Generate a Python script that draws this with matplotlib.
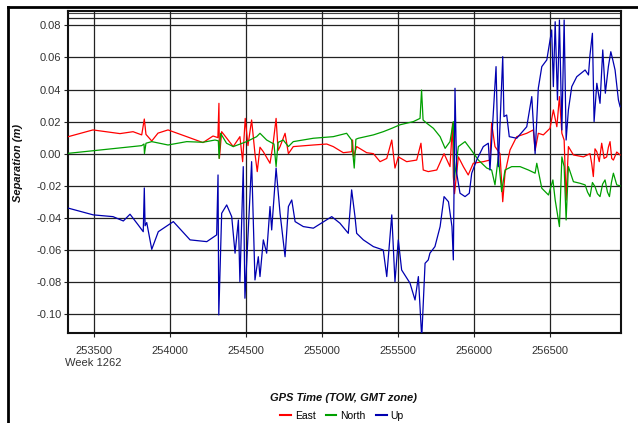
import matplotlib
matplotlib.use("Agg")
import matplotlib.pyplot as plt
from matplotlib.lines import Line2D

plt.rcParams['font.family'] = ['Liberation Sans Narrow', 'Liberation Sans', 'DejaVu Sans']

# ---- data (GPS TOW seconds, separation in metres) ----
east_t = [253333, 253495, 253673, 253759, 253816, 253833, 253844, 253882, 253923, 253989,
          254112, 254219, 254285, 254298, 254317, 254324, 254327, 254342, 254418, 254462,
          254480, 254488, 254497, 254515, 254539, 254561, 254576, 254594, 254616, 254660,
          254680, 254700, 254713, 254726, 254759, 254781, 254813, 254945, 255033, 255076,
          255142, 255197, 255203, 255209, 255230, 255296, 255340, 255384, 255428, 255461,
          255482, 255504, 255559, 255625, 255653, 255668, 255701, 255757, 255805, 255844,
          255861, 255866, 255874, 255899, 255932, 255964, 255997, 256063, 256107, 256118,
          256140, 256173, 256191, 256206, 256239, 256283, 256349, 256392, 256404, 256425,
          256458, 256502, 256524, 256547, 256564, 256580, 256595, 256608, 256623, 256656,
          256722, 256765, 256776, 256787, 256798, 256810, 256826, 256842, 256858, 256875,
          256886, 256897, 256908, 256919, 256941, 256963]
east_v = [0.0106, 0.0148, 0.0125, 0.0137, 0.0117, 0.0216, 0.0120, 0.0079, 0.0128, 0.0148,
          0.0106, 0.0069, 0.0110, 0.0106, 0.0100, 0.0314, -0.0029, 0.0137, 0.0044, 0.0106,
          -0.0050, 0.0080, 0.0220, 0.0050, 0.0210, 0.0000, -0.0112, 0.0040, 0.0012, -0.0060,
          0.0060, 0.0220, 0.0020, 0.0044, 0.0127, 0.0000, 0.0044, 0.0054, 0.0060, 0.0044,
          0.0006, 0.0012, 0.0085, -0.0020, 0.0044, 0.0006, 0.0000, -0.0050, -0.0030, 0.0085,
          -0.0090, -0.0020, -0.0050, -0.0040, 0.0065, -0.0102, -0.0112, -0.0102, 0.0000, -0.0081,
          0.0190, -0.0143, -0.0250, -0.0020, -0.0081, -0.0133, -0.0060, -0.0050, -0.0040, 0.0190,
          0.0044, 0.0000, -0.0300, -0.0122, 0.0023, 0.0106, 0.0127, 0.0148, 0.0020, 0.0127,
          0.0117, 0.0158, 0.0273, 0.0168, 0.0356, 0.0127, 0.0085, -0.0290, 0.0044, -0.0008,
          -0.0020, 0.0000, -0.0060, -0.0143, 0.0030, 0.0012, -0.0050, 0.0065, -0.0030, -0.0020,
          0.0040, 0.0075, -0.0030, -0.0040, 0.0010, -0.0008]

north_t = [253333, 253816, 253831, 253834, 253844, 253882, 253989, 254112, 254219, 254298,
           254320, 254325, 254335, 254374, 254418, 254506, 254572, 254594, 254638, 254686,
           254700, 254713, 254747, 254781, 254813, 254945, 255076, 255164, 255197, 255214,
           255225, 255241, 255340, 255405, 255461, 255515, 255603, 255647, 255657, 255667,
           255691, 255735, 255779, 255812, 255844, 255866, 255872, 255899, 255943, 255976,
           256031, 256086, 256118, 256140, 256162, 256184, 256206, 256250, 256305, 256360,
           256404, 256415, 256448, 256492, 256521, 256536, 256564, 256580, 256595, 256608,
           256623, 256656, 256700, 256733, 256749, 256765, 256781, 256798, 256814, 256831,
           256848, 256864, 256880, 256893, 256906, 256919, 256941, 256963]
north_v = [0.0002, 0.0050, 0.0060, 0.0000, 0.0065, 0.0075, 0.0054, 0.0075, 0.0071, 0.0085,
           0.0080, -0.0030, 0.0127, 0.0065, 0.0044, 0.0075, 0.0106, 0.0127, 0.0085, 0.0060,
           -0.0081, 0.0070, 0.0085, 0.0044, 0.0075, 0.0096, 0.0106, 0.0127, 0.0085, -0.0090,
           0.0090, 0.0096, 0.0117, 0.0137, 0.0158, 0.0180, 0.0200, 0.0220, 0.0397, 0.0210,
           0.0190, 0.0158, 0.0106, 0.0033, 0.0075, 0.0200, -0.0164, 0.0044, 0.0075, 0.0033,
           -0.0040, -0.0090, -0.0102, -0.0195, -0.0020, -0.0237, -0.0102, -0.0081, -0.0081, -0.0102,
           -0.0122, -0.0060, -0.0216, -0.0258, -0.0164, -0.0289, -0.0455, -0.0020, -0.0081, -0.0414,
           -0.0081, -0.0175, -0.0185, -0.0195, -0.0240, -0.0268, -0.0180, -0.0206, -0.0250, -0.0268,
           -0.0190, -0.0164, -0.0240, -0.0268, -0.0180, -0.0122, -0.0195, -0.0201]

up_t = [253333, 253497, 253627, 253695, 253739, 253793, 253826, 253833, 253838, 253849,
        253882, 253925, 254024, 254134, 254244, 254309, 254318, 254323, 254342, 254375,
        254408, 254430, 254452, 254462, 254484, 254495, 254517, 254539, 254561, 254583,
        254594, 254616, 254638, 254660, 254671, 254700, 254726, 254759, 254781, 254803,
        254825, 254879, 254945, 255066, 255120, 255175, 255197, 255219, 255230, 255274,
        255340, 255405, 255428, 255461, 255482, 255504, 255526, 255581, 255614, 255636,
        255658, 255680, 255701, 255712, 255745, 255779, 255805, 255834, 255857, 255866,
        255877, 255888, 255910, 255943, 255971, 255987, 256020, 256063, 256096, 256107,
        256125, 256147, 256162, 256191, 256199, 256217, 256234, 256283, 256349, 256382,
        256404, 256425, 256448, 256481, 256513, 256524, 256536, 256551, 256564, 256580,
        256595, 256608, 256623, 256645, 256678, 256733, 256755, 256765, 256781, 256792,
        256810, 256831, 256849, 256866, 256886, 256902, 256915, 256930, 256952, 256963]
up_v = [-0.0340, -0.0382, -0.0393, -0.0420, -0.0378, -0.0445, -0.0487, -0.0214, -0.0450, -0.0430,
        -0.0597, -0.0487, -0.0424, -0.0538, -0.0549, -0.0507, -0.0133, -0.1006, -0.0372, -0.0320,
        -0.0393, -0.0621, -0.0414, -0.0799, -0.0081, -0.0902, -0.0476, -0.0050, -0.0788, -0.0643,
        -0.0767, -0.0538, -0.0621, -0.0330, -0.0476, -0.0090, -0.0372, -0.0643, -0.0330, -0.0289,
        -0.0424, -0.0455, -0.0465, -0.0393, -0.0434, -0.0497, -0.0226, -0.0393, -0.0497, -0.0538,
        -0.0580, -0.0601, -0.0767, -0.0382, -0.0799, -0.0538, -0.0726, -0.0808, -0.0913, -0.0767,
        -0.1150, -0.0684, -0.0663, -0.0621, -0.0580, -0.0455, -0.0268, -0.0300, -0.0455, -0.0663,
        0.0408, -0.0122, -0.0247, -0.0268, -0.0247, -0.0122, -0.0039, 0.0044, 0.0065, -0.0102,
        0.0190, 0.0543, -0.0081, 0.0605, 0.0231, 0.0241, 0.0106, 0.0096, 0.0168, 0.0356,
        0.0000, 0.0408, 0.0543, 0.0585, 0.0772, 0.0418, 0.0823, 0.0335, 0.0834, 0.0148,
        0.0834, 0.0085, 0.0273, 0.0418, 0.0480, 0.0522, 0.0491, 0.0616, 0.0751, 0.0200,
        0.0439, 0.0314, 0.0647, 0.0377, 0.0543, 0.0636, 0.0585, 0.0522, 0.0335, 0.0293]

x_ticks = [253500, 254000, 254500, 255000, 255500, 256000, 256500]
x_tick_labels = ['253500\nWeek 1262', '254000', '254500', '255000', '255500', '256000', '256500']
y_ticks = [0.08, 0.06, 0.04, 0.02, 0.00, -0.02, -0.04, -0.06, -0.08, -0.10]
series_names = ['East', 'North', 'Up']
series_colors = ['#ff0000', '#00a000', '#0000b0']

# ---- figure ----
fig = plt.figure(figsize=(6.38, 4.23), dpi=100)
ax = fig.add_axes([68.3 / 638, 1 - 333 / 423, (621.3 - 68.3) / 638, (333 - 11) / 423])

for t, v, c, n in zip([east_t, north_t, up_t], [east_v, north_v, up_v], series_colors, series_names):
    ax.plot(t, v, color=c, lw=0.9, label=n, zorder=3)

ax.set_xlim(253333, 256971)
ax.set_ylim(-0.1119, 0.089)
ax.set_xticks(x_ticks)
ax.set_xticklabels(x_tick_labels, fontsize=8, color='#333333', linespacing=1.35)
ax.set_yticks(y_ticks)
ax.set_yticklabels(['%.2f' % v for v in y_ticks], fontsize=8, color='#333333')
ax.tick_params(axis='both', direction='out', length=3, width=0.8, color='#222222', pad=2)
ax.tick_params(axis='x', pad=6)
ax.grid(True, color='#222222', lw=0.9, zorder=1)
ax.axhline(0.0845, color='#222222', lw=0.9, zorder=1)
ax.axhline(0.0878, color='#444444', lw=0.8, zorder=1)
for s in ax.spines.values():
    s.set_color('#111111')
    s.set_linewidth(1.5)

fig.text(18.3 / 638, 1 - 162.5 / 423, 'Separation (m)', rotation=90, ha='center', va='center',
         fontsize=8, fontweight='bold', fontstyle='italic', color='#111111')
fig.text(344 / 638, 1 - 398 / 423, 'GPS Time (TOW, GMT zone)', ha='center', va='center',
         fontsize=8, fontweight='bold', fontstyle='italic', color='#111111')

handles = [Line2D([0], [0], color=c, lw=1.5) for c in series_colors]
fig.legend(handles, series_names, loc='center', bbox_to_anchor=(342 / 638, 1 - 416 / 423),
           ncol=3, frameon=False, fontsize=7.5, handlelength=1.0, handletextpad=0.4,
           columnspacing=1.0)

# outer frame lines
fig.add_artist(Line2D([8.3 / 638, 8.3 / 638], [0, 1 - 7.3 / 423], color='black', lw=2,
                      transform=fig.transFigure))
fig.add_artist(Line2D([8.3 / 638, 1.0], [1 - 7.3 / 423, 1 - 7.3 / 423], color='black', lw=2,
                      transform=fig.transFigure))

fig.savefig('out.png', dpi=100)
